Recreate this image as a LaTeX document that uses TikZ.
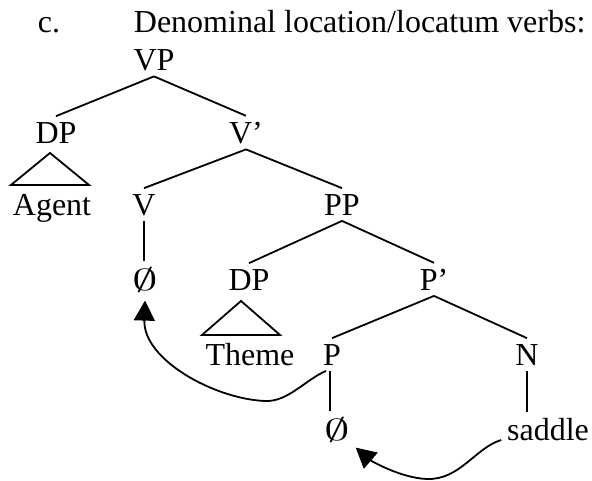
\documentclass[tikz,border=0pt]{standalone}
\usepackage{fix-cm}
\usepackage{fontspec}
\setmainfont{Liberation Serif}
\usetikzlibrary{arrows.meta}

\newcommand{\nullhead}{\scalebox{1.6}[0.95]{$\emptyset$}}

\tikzset{
  cat/.style={anchor=base,inner sep=5pt},
  roof/.style={line join=miter},
  move/.style={-{Triangle[length=20pt,width=21pt]}}
}

\begin{document}
\begin{tikzpicture}[x=1pt,y=-1pt,line width=1.8pt,font=\fontsize{32}{38}\selectfont]
\useasboundingbox (0,0) rectangle (592,480);
% heading
\node[anchor=base west,inner sep=0pt] (ex) at (37,32) {c.};
\node[anchor=base west,inner sep=0pt] (title) at (133,32) {Denominal location/locatum verbs:};
% tree
\node[cat] (vp) at (154,70) {VP};
\node[cat] (dpa) at (56,143) {DP};
\node[cat] (vbar) at (246,143) {V’};
\node[cat] (agent) at (52,215) {Agent};
\node[cat] (v) at (144,215) {V};
\node[cat] (pp) at (342,215) {PP};
\node[cat] (nulla) at (145,290) {\nullhead};
\node[cat] (dpb) at (249,290) {DP};
\node[cat] (pbar) at (434,290) {P’};
\node[cat] (theme) at (250,365) {Theme};
\node[cat] (p) at (332,365) {P};
\node[cat] (n) at (527,365) {N};
\node[cat] (nullb) at (337,440) {\nullhead};
\node[cat] (saddle) at (548,440) {saddle};
% branches
\foreach \a/\b in {vp/dpa,vp/vbar,vbar/v,vbar/pp,pp/dpb,pp/pbar,pbar/p,pbar/n}
  \draw (\a.south) -- (\b.north);
\draw (v.south) -- (v.south |- nulla.north);
\draw ([xshift=-2pt]p.south) -- ([xshift=-2pt]p.south |- nullb.north);
\draw (n.south) -- (n.south |- saddle.north);
% roofs over Agent and Theme
\draw[roof] ([xshift=-6pt,yshift=-4pt]dpa.south) -- ++(-39,32) -- ++(78,0) -- cycle;
\draw[roof] ([xshift=-8pt,yshift=-5pt]dpb.south) -- ++(-39,34) -- ++(78,0) -- cycle;
% head movement
\draw[move] ([xshift=-6pt]p.south) .. controls (305,380) and (288,402) .. (265,401)
  .. controls (215,399) and (143,360) .. ([yshift=-3pt]nulla.south);
\draw[move] (saddle.base west) .. controls (475,448) and (460,480) .. (427,479)
  .. controls (400,478) and (370,460) .. (nullb.south east);
\end{tikzpicture}
\end{document}
